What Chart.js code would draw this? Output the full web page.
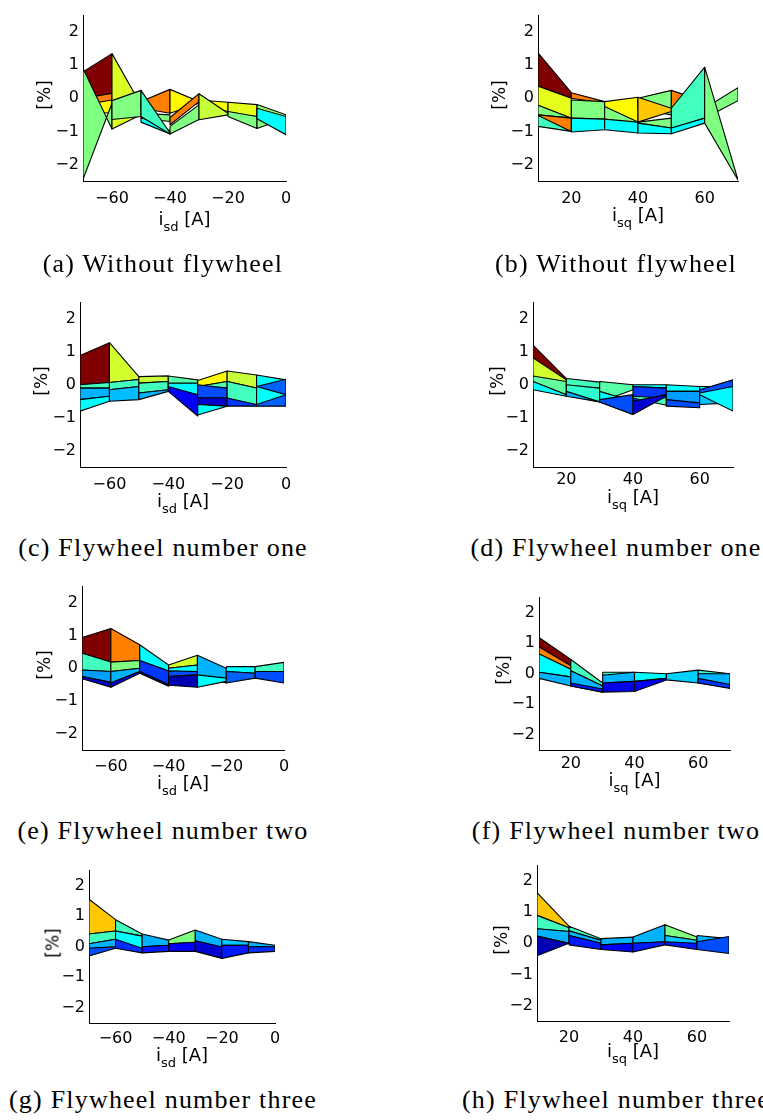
<!DOCTYPE html>
<html>
<head>
<meta charset="utf-8">
<script src="https://cdn.jsdelivr.net/npm/chart.js@4.4.0/dist/chart.umd.min.js"></script>
<style>
  html, body { margin: 0; padding: 0; background: #fff; }
  #page { position: relative; width: 763px; height: 1120px; overflow: hidden; background: #fff; }
  #page canvas { position: absolute; }
  .xt { position: absolute; font-family: 'DejaVu Sans', sans-serif; font-size: 18px; line-height: 18px;
        white-space: nowrap; transform: translateX(-50%); color: #000; z-index: 2; }
  .xt sub { font-size: 13px; vertical-align: -6px; line-height: 0; }
  .yt { position: absolute; font-family: 'DejaVu Sans', sans-serif; font-size: 17px; line-height: 17px;
        white-space: nowrap; transform: translate(-50%, -50%) rotate(-90deg); color: #000; z-index: 2; }
  .cap { position: absolute; font-family: 'Liberation Serif', serif; font-size: 26px; line-height: 26px;
         letter-spacing: 1.2px; white-space: nowrap; transform: translateX(-50%); color: #000; z-index: 2; }
</style>
</head>
<body>
<div id="page"></div>
<script>
// Tick values
const isdTicks = [-60, -40, -20, 0];
const isqTicks = [20, 40, 60];
const pctTicks = [-2, -1, 0, 1, 2];

// Surface faces seen edge-on, listed back to front.
// Each row: [x0, x1, top at x0, bottom at x0, top at x1, bottom at x1, colour value (0..1 on jet)]
const facesA = [
  [-70, -60, 0.80, 0.03, 1.35, 0.13, 1.00],
  [-70, -60, 0.00, -0.30, 0.15, -0.10, 0.75],
  [-70, -60, -0.20, -0.40, -0.05, -0.45, 0.63],
  [-70, -60, 0.90, -2.45, -0.93, -0.15, 0.50],
  [-60, -50, 1.35, -0.93, -0.20, -0.50, 0.59],
  [-60, -50, -0.07, -0.64, 0.24, -0.55, 0.50],
  [-50, -40, -0.10, -0.30, 0.27, -0.45, 0.75],
  [-50, -40, -0.45, -0.60, -0.50, -0.70, 0.50],
  [-50, -40, -0.57, -0.72, -0.98, -1.08, 0.375],
  [-50, -40, 0.24, -0.55, -1.05, -1.08, 0.44],
  [-40, -30, 0.27, -0.45, -0.10, -0.15, 0.63],
  [-40, -30, -0.85, -1.08, -0.20, -0.64, 0.50],
  [-40, -30, -0.58, -0.80, 0.14, -0.10, 0.75],
  [-30, -20, -0.05, -0.20, -0.12, -0.40, 0.62],
  [-30, -20, 0.14, -0.65, -0.45, -0.50, 0.57],
  [-20, -10, -0.12, -0.45, -0.19, -0.55, 0.60],
  [-20, -10, -0.40, -0.55, -0.55, -0.91, 0.50],
  [-10, 0, -0.19, -0.60, -0.50, -0.58, 0.52],
  [-10, 0, -0.62, -0.91, -0.55, -0.60, 0.50],
  [-10, 0, -0.30, -0.62, -0.55, -1.10, 0.375]
];

const facesB = [
  [10, 20, 1.375, 0.37, 0.17, 0.00, 1.00],
  [10, 20, 0.37, -0.21, 0.00, -0.60, 0.60],
  [10, 20, -0.21, -0.50, -0.60, -0.60, 0.50],
  [10, 20, -0.50, -0.85, -1.00, -1.00, 0.44],
  [10, 20, -0.50, -0.52, -0.60, -1.00, 0.75],
  [20, 30, 0.17, 0.00, -0.10, -0.15, 0.75],
  [20, 30, -0.05, -0.60, -0.10, -0.63, 0.50],
  [20, 30, -0.60, -1.02, -0.63, -0.95, 0.375],
  [30, 40, -0.10, -0.65, -0.35, -1.00, 0.50],
  [30, 40, -0.10, -0.25, 0.03, -0.72, 0.63],
  [30, 40, -0.63, -0.95, -0.72, -1.05, 0.375],
  [40, 50, 0.00, -0.30, 0.24, -0.50, 0.50],
  [40, 50, 0.03, -0.72, -0.30, -0.40, 0.68],
  [40, 50, -0.72, -0.75, -0.60, -0.90, 0.50],
  [40, 50, -0.75, -1.05, -0.90, -1.07, 0.375],
  [50, 60, 0.24, -0.30, -0.10, -0.20, 0.75],
  [50, 60, -0.30, -0.92, 0.94, -0.60, 0.44],
  [50, 60, -0.90, -1.07, -0.60, -0.75, 0.375],
  [60, 70, -0.30, -0.60, 0.32, -0.07, 0.50],
  [60, 70, 0.94, -0.75, -2.47, -2.47, 0.50]
];

const facesC = [
  [-70, -60, 0.89, 0.00, 1.28, 0.07, 1.00],
  [-70, -60, 0.00, -0.10, 0.07, -0.10, 0.44],
  [-70, -60, -0.10, -0.45, -0.10, -0.35, 0.30],
  [-70, -60, -0.45, -0.80, -0.35, -0.50, 0.375],
  [-60, -50, 1.28, 0.07, 0.25, 0.16, 0.58],
  [-60, -50, 0.07, -0.15, 0.16, -0.05, 0.44],
  [-60, -50, -0.15, -0.50, -0.05, -0.45, 0.31],
  [-50, -40, 0.25, 0.05, 0.27, 0.10, 0.57],
  [-50, -40, 0.05, -0.25, 0.10, -0.15, 0.44],
  [-50, -40, -0.25, -0.45, -0.15, -0.20, 0.30],
  [-40, -30, 0.27, -0.05, 0.15, -0.05, 0.46],
  [-40, -30, 0.05, -0.10, 0.05, -0.30, 0.37],
  [-40, -30, -0.05, -0.20, -0.30, -0.95, 0.12],
  [-30, -20, 0.13, -0.05, 0.42, 0.10, 0.63],
  [-30, -20, -0.05, -0.10, 0.10, -0.10, 0.45],
  [-30, -20, 0.00, -0.40, -0.10, -0.40, 0.20],
  [-30, -20, -0.40, -0.60, -0.40, -0.65, 0.08],
  [-30, -20, -0.60, -0.92, -0.65, -0.65, 0.375],
  [-20, -10, 0.42, 0.10, 0.30, -0.10, 0.57],
  [-20, -10, 0.10, -0.40, -0.10, -0.65, 0.44],
  [-20, -10, -0.40, -0.65, -0.60, -0.65, 0.18],
  [-10, 0, 0.30, -0.05, 0.15, -0.05, 0.375],
  [-10, 0, -0.05, -0.65, 0.17, -0.65, 0.22],
  [-10, 0, -0.05, -0.60, -0.30, -0.30, 0.375]
];

const facesD = [
  [10, 20, 1.21, 0.82, 0.19, 0.15, 1.00],
  [10, 20, 0.82, 0.27, 0.15, -0.34, 0.58],
  [10, 20, 0.27, 0.10, 0.10, -0.30, 0.47],
  [10, 20, 0.10, -0.15, -0.30, -0.35, 0.375],
  [20, 30, 0.19, -0.05, 0.08, -0.10, 0.44],
  [20, 30, 0.00, -0.30, -0.10, -0.52, 0.42],
  [20, 30, -0.20, -0.35, -0.52, -0.52, 0.30],
  [30, 40, 0.10, -0.52, 0.00, -0.15, 0.46],
  [30, 40, -0.20, -0.52, -0.50, -0.90, 0.375],
  [30, 40, -0.45, -0.52, -0.30, -0.90, 0.20],
  [40, 50, 0.00, -0.05, 0.00, -0.10, 0.375],
  [40, 50, -0.05, -0.50, -0.10, -0.35, 0.18],
  [40, 50, -0.35, -0.40, -0.40, -0.62, 0.44],
  [40, 50, -0.50, -0.90, -0.30, -0.35, 0.08],
  [50, 60, 0.00, -0.20, -0.05, -0.20, 0.375],
  [50, 60, -0.20, -0.45, -0.20, -0.60, 0.28],
  [50, 60, -0.45, -0.65, -0.55, -0.70, 0.20],
  [60, 70, -0.30, -0.60, -0.35, -0.55, 0.32],
  [60, 70, -0.05, -0.30, -0.05, -0.80, 0.37],
  [60, 70, -0.15, -0.25, 0.15, -0.05, 0.20]
];

const facesE = [
  [-70, -60, 0.94, 0.46, 1.22, 0.19, 1.00],
  [-70, -60, 0.46, -0.05, 0.19, -0.10, 0.44],
  [-70, -60, -0.05, -0.25, -0.10, -0.43, 0.28],
  [-70, -60, -0.25, -0.32, -0.43, -0.58, 0.07],
  [-60, -50, 1.22, 0.19, 0.72, 0.24, 0.75],
  [-60, -50, 0.19, -0.10, 0.24, 0.00, 0.50],
  [-60, -50, -0.10, -0.45, 0.00, -0.10, 0.30],
  [-60, -50, -0.45, -0.58, -0.10, -0.15, 0.10],
  [-50, -40, 0.72, 0.24, 0.10, -0.08, 0.375],
  [-50, -40, 0.24, -0.10, -0.08, -0.50, 0.18],
  [-50, -40, -0.10, -0.15, -0.50, -0.55, 0.08],
  [-40, -30, 0.10, 0.00, 0.40, 0.10, 0.58],
  [-40, -30, 0.00, -0.15, 0.10, -0.10, 0.375],
  [-40, -30, -0.08, -0.25, -0.10, -0.20, 0.20],
  [-40, -30, -0.25, -0.52, -0.20, -0.58, 0.05],
  [-30, -20, 0.40, -0.20, 0.00, -0.45, 0.30],
  [-30, -20, -0.20, -0.58, -0.30, -0.40, 0.375],
  [-20, -10, 0.05, -0.10, 0.05, -0.15, 0.375],
  [-20, -10, -0.10, -0.45, -0.15, -0.30, 0.22],
  [-10, 0, 0.05, -0.10, 0.18, -0.10, 0.44],
  [-10, 0, -0.10, -0.30, -0.10, -0.45, 0.20]
];

const facesF = [
  [10, 20, 1.19, 0.88, 0.47, 0.26, 1.00],
  [10, 20, 0.88, 0.65, 0.26, 0.15, 0.75],
  [10, 20, 0.65, 0.05, 0.15, -0.10, 0.375],
  [10, 20, 0.05, -0.15, -0.10, -0.40, 0.30],
  [20, 30, 0.47, 0.10, -0.30, -0.40, 0.44],
  [20, 30, 0.10, -0.40, -0.40, -0.60, 0.30],
  [20, 30, -0.30, -0.40, -0.50, -0.60, 0.15],
  [30, 40, 0.05, -0.05, 0.05, -0.05, 0.44],
  [30, 40, -0.05, -0.30, 0.05, -0.25, 0.30],
  [30, 40, -0.30, -0.60, -0.25, -0.58, 0.10],
  [40, 50, 0.05, -0.25, 0.00, -0.15, 0.375],
  [40, 50, -0.25, -0.58, -0.15, -0.20, 0.12],
  [50, 60, 0.00, -0.20, 0.12, -0.30, 0.33],
  [60, 70, 0.12, 0.00, 0.00, -0.05, 0.42],
  [60, 70, 0.00, -0.30, 0.00, -0.45, 0.30],
  [60, 70, -0.15, -0.30, -0.35, -0.48, 0.18]
];

const facesG = [
  [-70, -60, 1.56, 0.42, 0.89, 0.52, 0.68],
  [-70, -60, 0.42, 0.10, 0.52, 0.25, 0.44],
  [-70, -60, 0.10, -0.05, 0.25, 0.00, 0.30],
  [-70, -60, -0.05, -0.30, 0.00, -0.05, 0.20],
  [-60, -50, 0.89, 0.52, 0.42, 0.35, 0.44],
  [-60, -50, 0.52, 0.00, 0.35, -0.10, 0.375],
  [-60, -50, 0.25, -0.05, -0.05, -0.20, 0.17],
  [-50, -40, 0.42, 0.00, 0.22, 0.05, 0.30],
  [-50, -40, 0.00, -0.20, 0.05, -0.15, 0.15],
  [-40, -30, 0.22, 0.10, 0.55, 0.15, 0.50],
  [-40, -30, 0.10, -0.15, 0.15, -0.15, 0.12],
  [-30, -20, 0.55, 0.20, 0.25, -0.05, 0.30],
  [-30, -20, 0.20, -0.15, 0.00, -0.38, 0.08],
  [-20, -10, 0.25, 0.05, 0.17, 0.05, 0.32],
  [-20, -10, 0.05, -0.38, 0.05, -0.20, 0.15],
  [-10, 0, 0.17, 0.00, 0.05, 0.00, 0.30],
  [-10, 0, 0.00, -0.20, 0.00, -0.15, 0.17]
];

const facesH = [
  [10, 20, 1.63, 0.90, 0.55, 0.50, 0.68],
  [10, 20, 0.90, 0.47, 0.50, 0.38, 0.44],
  [10, 20, 0.47, 0.23, 0.38, 0.00, 0.30],
  [10, 20, 0.23, -0.40, 0.00, 0.00, 0.05],
  [20, 30, 0.55, 0.40, 0.15, 0.10, 0.44],
  [20, 30, 0.40, 0.25, 0.10, 0.00, 0.30],
  [20, 30, 0.25, -0.05, 0.00, -0.20, 0.15],
  [30, 40, 0.15, -0.05, 0.20, 0.00, 0.30],
  [30, 40, -0.05, -0.20, 0.00, -0.28, 0.12],
  [40, 50, 0.20, 0.00, 0.60, 0.05, 0.30],
  [40, 50, 0.00, -0.28, 0.05, -0.05, 0.15],
  [50, 60, 0.60, 0.25, 0.20, 0.10, 0.50],
  [50, 60, 0.25, 0.00, 0.10, -0.05, 0.32],
  [50, 60, 0.05, -0.05, 0.00, -0.20, 0.15],
  [60, 70, 0.25, 0.05, 0.15, 0.10, 0.30],
  [60, 70, 0.05, -0.20, 0.22, -0.33, 0.20]
];

// Panel layout: plot box [left, top, right, bottom] in page pixels
const panels = [
  { faces: facesA, xMin: -70, xMax: 0,  xTicks: isdTicks, sub: 'sd', caption: '(a) Without flywheel',      box: [83, 8, 286, 181],    tickPad: 8,   xtGap: 43.5, ytGap: 39, capX: 163, capY: 273 },
  { faces: facesB, xMin: 10,  xMax: 70, xTicks: isqTicks, sub: 'sq', caption: '(b) Without flywheel',      box: [538, 8, 738, 181],   tickPad: 8,   xtGap: 40,   ytGap: 39, capX: 616, capY: 273 },
  { faces: facesC, xMin: -70, xMax: 0,  xTicks: isdTicks, sub: 'sd', caption: '(c) Flywheel number one',   box: [80, 295, 286, 467],  tickPad: 8.5, xtGap: 39.5, ytGap: 39, capX: 163, capY: 557 },
  { faces: facesD, xMin: 10,  xMax: 70, xTicks: isqTicks, sub: 'sq', caption: '(d) Flywheel number one',   box: [533, 295, 733, 467], tickPad: 3.5, xtGap: 35.5, ytGap: 36, capX: 616, capY: 557 },
  { faces: facesE, xMin: -70, xMax: 0,  xTicks: isdTicks, sub: 'sd', caption: '(e) Flywheel number two',   box: [82, 579, 284, 750],  tickPad: 7.5, xtGap: 39,   ytGap: 38, capX: 163, capY: 840 },
  { faces: facesF, xMin: 10,  xMax: 70, xTicks: isqTicks, sub: 'sq', caption: '(f) Flywheel number two',   box: [539, 590, 730, 750], tickPad: 4.5, xtGap: 36,   ytGap: 36, capX: 616, capY: 840 },
  { faces: facesG, xMin: -70, xMax: 0,  xTicks: isdTicks, sub: 'sd', caption: '(g) Flywheel number three', box: [89, 863, 275, 1023], tickPad: 6,   xtGap: 38,   ytGap: 36, capX: 163, capY: 1109 },
  { faces: facesH, xMin: 10,  xMax: 70, xTicks: isqTicks, sub: 'sq', caption: '(h) Flywheel number three', box: [537, 858, 729, 1021], tickPad: 7,  xtGap: 35.5, ytGap: 36, capX: 616, capY: 1109 }
];

const Y_AXIS_W = 36, X_AXIS_H = 30, PAD_T = 6, PAD_R = 18;

// MATLAB-style jet colormap
function jet(t) {
  const c = v => Math.round(255 * Math.max(0, Math.min(1, v)));
  return 'rgb(' + c(1.5 - Math.abs(4 * t - 3)) + ',' + c(1.5 - Math.abs(4 * t - 2)) + ',' + c(1.5 - Math.abs(4 * t - 1)) + ')';
}

function fmtTick(v) { return v < 0 ? '\u2212' + Math.abs(v) : String(v); }

function faceDataset(f) {
  const [x0, x1, t0, b0, t1, b1, c] = f;
  return {
    data: [{ x: x0, y: t0 }, { x: x1, y: t1 }, { x: x1, y: b1 }, { x: x0, y: b0 }, { x: x0, y: t0 }],
    fill: 'shape',
    backgroundColor: jet(c),
    borderColor: '#000',
    borderWidth: 1.1,
    borderJoinStyle: 'round',
    pointRadius: 0,
    pointHoverRadius: 0,
    tension: 0
  };
}

const page = document.getElementById('page');
const tickFont = { family: 'DejaVu Sans', size: 16 };

panels.forEach(p => {
  const [L, T, R, B] = p.box;
  const w = (R - L) + Y_AXIS_W + PAD_R;
  const h = (B - T) + PAD_T + X_AXIS_H;
  const cv = document.createElement('canvas');
  cv.width = w; cv.height = h;
  cv.style.width = w + 'px'; cv.style.height = h + 'px';
  cv.style.left = (L - Y_AXIS_W) + 'px';
  cv.style.top = (T - PAD_T) + 'px';
  page.appendChild(cv);

  new Chart(cv, {
    type: 'line',
    data: { datasets: p.faces.map(faceDataset).reverse() },
    options: {
      responsive: false,
      animation: false,
      devicePixelRatio: 1,
      events: [],
      layout: { padding: { top: PAD_T, right: PAD_R, left: 0, bottom: 0 } },
      plugins: { legend: { display: false }, tooltip: { enabled: false } },
      scales: {
        x: {
          type: 'linear', min: p.xMin, max: p.xMax, z: 1,
          afterBuildTicks: s => { s.ticks = p.xTicks.map(v => ({ value: v })); },
          afterFit: s => { s.height = X_AXIS_H; },
          grid: { display: false, drawTicks: false },
          border: { display: true, color: '#000', width: 1 },
          ticks: { font: tickFont, color: '#000', padding: p.tickPad, maxRotation: 0, autoSkip: false, callback: fmtTick }
        },
        y: {
          type: 'linear', min: -2.5, max: 2.5, z: 1,
          afterBuildTicks: s => { s.ticks = pctTicks.map(v => ({ value: v })); },
          afterFit: s => { s.width = Y_AXIS_W; },
          grid: { display: false, drawTicks: false },
          border: { display: true, color: '#000', width: 1 },
          ticks: { font: tickFont, color: '#000', padding: 4, autoSkip: false, callback: fmtTick }
        }
      }
    }
  });

  const xt = document.createElement('div');
  xt.className = 'xt';
  xt.innerHTML = 'i<sub>' + p.sub + '</sub> [A]';
  xt.style.left = ((L + R) / 2) + 'px';
  xt.style.top = (B + p.xtGap - 15) + 'px';
  page.appendChild(xt);

  const yt = document.createElement('div');
  yt.className = 'yt';
  yt.textContent = '[%]';
  yt.style.left = (L - p.ytGap) + 'px';
  yt.style.top = ((T + B) / 2) + 'px';
  page.appendChild(yt);

  const cap = document.createElement('div');
  cap.className = 'cap';
  cap.textContent = p.caption;
  cap.style.left = p.capX + 'px';
  cap.style.top = (p.capY - 22) + 'px';
  page.appendChild(cap);
});
</script>
</body>
</html>
